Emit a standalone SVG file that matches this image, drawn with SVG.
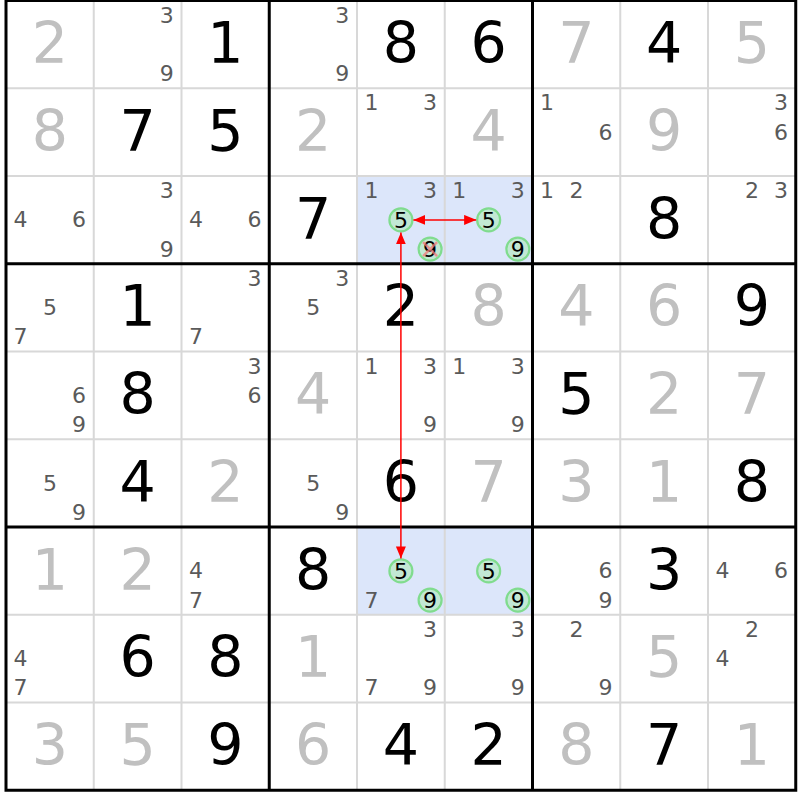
<svg xmlns="http://www.w3.org/2000/svg" width="800" height="800" viewBox="0 0 800 800">
<style>
.g{font-family:"DejaVu Sans",Verdana,sans-serif;font-size:57px;text-anchor:middle;fill:#000}
.s{font-family:"DejaVu Sans",Verdana,sans-serif;font-size:57px;text-anchor:middle;fill:#c0c0c0}
.c{font-family:"DejaVu Sans",Verdana,sans-serif;font-size:22px;text-anchor:middle;fill:#5a5a5a}
.k{font-family:"DejaVu Sans",Verdana,sans-serif;font-size:22px;text-anchor:middle;fill:#000}
.thin{stroke:#d8d8d8;stroke-width:2;fill:none}
.thick{stroke:#000;stroke-width:3;fill:none}
.hl{fill:#dce6fa}
.ring{fill:#c2e8d4;stroke:#80dc8e;stroke-width:2.2}
.x{stroke:#f07878;stroke-width:2.5;stroke-opacity:0.75}
.arr{stroke:#ff0000;stroke-width:1.5;fill:none;marker-start:url(#ah);marker-end:url(#ah)}
</style>
<defs>
<marker id="ah" viewBox="0 0 12 10" refX="12" refY="5" markerWidth="12" markerHeight="10" markerUnits="userSpaceOnUse" orient="auto-start-reverse">
<path d="M0,0 L12,5 L0,10 z" fill="#ff0000"/>
</marker>
</defs>
<rect width="800" height="800" fill="#fff"/>
<g id="highlights">
<rect class="hl" x="357" y="176" width="175.5" height="87.75"/>
<rect class="hl" x="357" y="527" width="175.5" height="87.75"/>
</g>
<g id="grid">
<path class="thin" d="M93.75,0.5V790.25M181.5,0.5V790.25M357,0.5V790.25M444.75,0.5V790.25M620.25,0.5V790.25M708,0.5V790.25M6,88.25H795.75M6,176H795.75M6,351.5H795.75M6,439.25H795.75M6,614.75H795.75M6,702.5H795.75"/>
<path class="thick" d="M269.25,0.5V790.25M532.5,0.5V790.25M6,263.75H795.75M6,527H795.75"/>
<rect class="thick" x="6" y="0.5" width="789.75" height="789.75"/>
</g>
<g id="rings">
<circle class="ring" cx="400.9" cy="219.9" r="11.5"/>
<circle class="ring" cx="430.1" cy="249.1" r="11.5"/>
<circle class="ring" cx="488.65" cy="219.9" r="11.5"/>
<circle class="ring" cx="517.85" cy="249.1" r="11.5"/>
<circle class="ring" cx="400.9" cy="570.9" r="11.5"/>
<circle class="ring" cx="430.1" cy="600.1" r="11.5"/>
<circle class="ring" cx="488.65" cy="570.9" r="11.5"/>
<circle class="ring" cx="517.85" cy="600.1" r="11.5"/>
</g>
<g id="r1">
<text class="s" x="49.9" y="63">2</text>
<text class="c" x="166.85" y="22.6">3</text><text class="c" x="166.85" y="81.1">9</text>
<text class="g" x="225.4" y="63">1</text>
<text class="c" x="342.35" y="22.6">3</text><text class="c" x="342.35" y="81.1">9</text>
<text class="g" x="400.9" y="63">8</text>
<text class="g" x="488.6" y="63">6</text>
<text class="s" x="576.4" y="63">7</text>
<text class="g" x="664.1" y="63">4</text>
<text class="s" x="751.9" y="63">5</text>
</g>
<g id="r2">
<text class="s" x="49.9" y="150.75">8</text>
<text class="g" x="137.6" y="150.75">7</text>
<text class="g" x="225.4" y="150.75">5</text>
<text class="s" x="313.1" y="150.75">2</text>
<text class="c" x="371.6" y="110.35">1</text><text class="c" x="430.1" y="110.35">3</text>
<text class="s" x="488.6" y="150.75">4</text>
<text class="c" x="547.1" y="110.35">1</text><text class="c" x="605.6" y="139.65">6</text>
<text class="s" x="664.1" y="150.75">9</text>
<text class="c" x="781.1" y="110.35">3</text><text class="c" x="781.1" y="139.65">6</text>
</g>
<g id="r3">
<text class="c" x="20.6" y="227.4">4</text><text class="c" x="79.1" y="227.4">6</text>
<text class="c" x="166.85" y="198.1">3</text><text class="c" x="166.85" y="256.6">9</text>
<text class="c" x="196.1" y="227.4">4</text><text class="c" x="254.6" y="227.4">6</text>
<text class="g" x="313.1" y="238.5">7</text>
<text class="c" x="371.6" y="198.1">1</text><text class="c" x="430.1" y="198.1">3</text>
<text class="k" x="400.9" y="227.9">5</text><text class="k" x="430.1" y="257.1">9</text>
<text class="c" x="459.35" y="198.1">1</text><text class="c" x="517.85" y="198.1">3</text>
<text class="k" x="488.65" y="227.9">5</text><text class="k" x="517.85" y="257.1">9</text>
<text class="c" x="547.1" y="198.1">1</text><text class="c" x="576.4" y="198.1">2</text>
<text class="g" x="664.1" y="238.5">8</text>
<text class="c" x="751.9" y="198.1">2</text><text class="c" x="781.1" y="198.1">3</text>
</g>
<g id="r4">
<text class="c" x="49.9" y="315.15">5</text><text class="c" x="20.6" y="344.35">7</text>
<text class="g" x="137.6" y="326.25">1</text>
<text class="c" x="254.6" y="285.85">3</text><text class="c" x="196.1" y="344.35">7</text>
<text class="c" x="342.35" y="285.85">3</text><text class="c" x="313.15" y="315.15">5</text>
<text class="g" x="400.9" y="326.25">2</text>
<text class="s" x="488.6" y="326.25">8</text>
<text class="s" x="576.4" y="326.25">4</text>
<text class="s" x="664.1" y="326.25">6</text>
<text class="g" x="751.9" y="326.25">9</text>
</g>
<g id="r5">
<text class="c" x="79.1" y="402.9">6</text><text class="c" x="79.1" y="432.1">9</text>
<text class="g" x="137.6" y="414">8</text>
<text class="c" x="254.6" y="373.6">3</text><text class="c" x="254.6" y="402.9">6</text>
<text class="s" x="313.1" y="414">4</text>
<text class="c" x="371.6" y="373.6">1</text><text class="c" x="430.1" y="373.6">3</text><text class="c" x="430.1" y="432.1">9</text>
<text class="c" x="459.35" y="373.6">1</text><text class="c" x="517.85" y="373.6">3</text><text class="c" x="517.85" y="432.1">9</text>
<text class="g" x="576.4" y="414">5</text>
<text class="s" x="664.1" y="414">2</text>
<text class="s" x="751.9" y="414">7</text>
</g>
<g id="r6">
<text class="c" x="49.9" y="490.65">5</text><text class="c" x="79.1" y="519.85">9</text>
<text class="g" x="137.6" y="501.75">4</text>
<text class="s" x="225.4" y="501.75">2</text>
<text class="c" x="313.15" y="490.65">5</text><text class="c" x="342.35" y="519.85">9</text>
<text class="g" x="400.9" y="501.75">6</text>
<text class="s" x="488.6" y="501.75">7</text>
<text class="s" x="576.4" y="501.75">3</text>
<text class="s" x="664.1" y="501.75">1</text>
<text class="g" x="751.9" y="501.75">8</text>
</g>
<g id="r7">
<text class="s" x="49.9" y="589.5">1</text>
<text class="s" x="137.6" y="589.5">2</text>
<text class="c" x="196.1" y="578.4">4</text><text class="c" x="196.1" y="607.6">7</text>
<text class="g" x="313.1" y="589.5">8</text>
<text class="k" x="400.9" y="578.9">5</text><text class="c" x="371.6" y="607.6">7</text><text class="k" x="430.1" y="608.1">9</text>
<text class="k" x="488.65" y="578.9">5</text><text class="k" x="517.85" y="608.1">9</text>
<text class="c" x="605.6" y="578.4">6</text><text class="c" x="605.6" y="607.6">9</text>
<text class="g" x="664.1" y="589.5">3</text>
<text class="c" x="722.6" y="578.4">4</text><text class="c" x="781.1" y="578.4">6</text>
</g>
<g id="r8">
<text class="c" x="20.6" y="666.15">4</text><text class="c" x="20.6" y="695.35">7</text>
<text class="g" x="137.6" y="677.25">6</text>
<text class="g" x="225.4" y="677.25">8</text>
<text class="s" x="313.1" y="677.25">1</text>
<text class="c" x="430.1" y="636.85">3</text><text class="c" x="371.6" y="695.35">7</text><text class="c" x="430.1" y="695.35">9</text>
<text class="c" x="517.85" y="636.85">3</text><text class="c" x="517.85" y="695.35">9</text>
<text class="c" x="576.4" y="636.85">2</text><text class="c" x="605.6" y="695.35">9</text>
<text class="s" x="664.1" y="677.25">5</text>
<text class="c" x="751.9" y="636.85">2</text><text class="c" x="722.6" y="666.15">4</text>
</g>
<g id="r9">
<text class="s" x="49.9" y="765">3</text>
<text class="s" x="137.6" y="765">5</text>
<text class="g" x="225.4" y="765">9</text>
<text class="s" x="313.1" y="765">6</text>
<text class="g" x="400.9" y="765">4</text>
<text class="g" x="488.6" y="765">2</text>
<text class="s" x="576.4" y="765">8</text>
<text class="g" x="664.1" y="765">7</text>
<text class="s" x="751.9" y="765">1</text>
</g>
<g id="elimination">
<path class="x" d="M423.1,242.1L437.1,256.1M437.1,242.1L423.1,256.1"/>
</g>
<g id="connectors">
<line class="arr" x1="413.4" y1="219.9" x2="476.15" y2="219.9"/>
<line class="arr" x1="400.9" y1="232.4" x2="400.9" y2="558.4"/>
</g>
</svg>
